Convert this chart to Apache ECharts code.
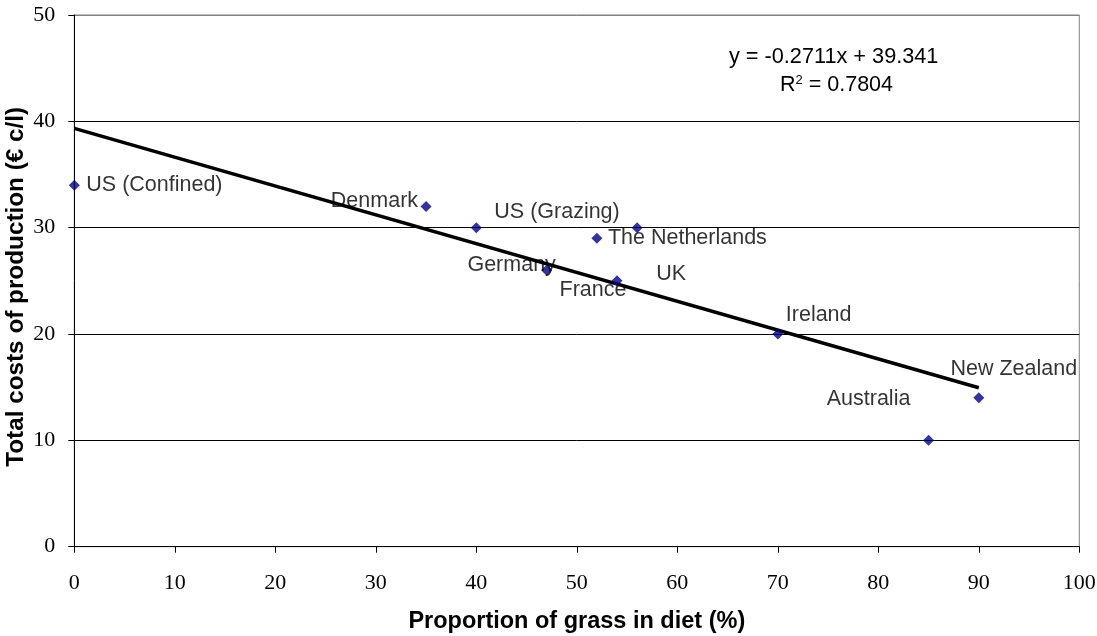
<!DOCTYPE html>
<html><head><meta charset="utf-8">
<script src="https://cdn.jsdelivr.net/npm/echarts@6/dist/echarts.min.js"></script>
<style>html,body{margin:0;padding:0;background:#fff}#c{width:1097px;height:636px}</style>
</head><body><div id="c"></div>
<script>
var countries = ['US (Confined)','Denmark','US (Grazing)','Germany','The Netherlands','France','UK','Ireland','Australia','New Zealand'];
var grassShare = [0,35,40,47,52,54,56,70,85,90];
var totalCost = [34,32,30,26,29,25,30,20,10,14];
var xTicks = [0,10,20,30,40,50,60,70,80,90,100];
var yTicks = [0,10,20,30,40,50];

// label placement (style only)
var labelPlace = [
  {align:'left', offset:[12,0]},
  {align:'right', offset:[-8,-5]},
  {align:'left', offset:[18,-16]},
  {align:'center', offset:[-35,-5]},
  {align:'left', offset:[11,0]},
  {align:'center', offset:[-24,9]},
  {align:'center', offset:[34,46]},
  {align:'left', offset:[8,-19]},
  {align:'center', offset:[-60,-41]},
  {align:'center', offset:[35,-29]}
];

// linear regression computed from the data
var n = grassShare.length, mx = 0, my = 0;
for (var i=0;i<n;i++){mx+=grassShare[i];my+=totalCost[i];}
mx/=n; my/=n;
var sxx=0, sxy=0, syy=0;
for (var i=0;i<n;i++){var dx=grassShare[i]-mx, dy=totalCost[i]-my; sxx+=dx*dx; sxy+=dx*dy; syy+=dy*dy;}
var slope = sxy/sxx, icpt = my - slope*mx, r2 = sxy*sxy/(sxx*syy);
var xmin = Math.min.apply(null, grassShare), xmax = Math.max.apply(null, grassShare);
var trend = [[xmin, icpt+slope*xmin],[xmax, icpt+slope*xmax]];

var pts = grassShare.map(function(x,i){
  return {value:[x,totalCost[i]], name:countries[i],
    label:{show:true, position:'inside', align:labelPlace[i].align, verticalAlign:'middle', offset:labelPlace[i].offset, formatter:countries[i]}};
});

var chart = echarts.init(document.getElementById('c'));
chart.setOption({
  animation:false,
  grid:{left:74.3, right:17.7, top:15, bottom:89.3, show:true, borderColor:'#808080', borderWidth:1,
        containLabel:false, outerBoundsMode:'none'},
  xAxis:{type:'value', min:0, max:100, interval:10,
    axisLine:{show:true, onZero:false, lineStyle:{color:'#000', width:1}},
    axisTick:{show:true, length:6, lineStyle:{color:'#000'}},
    axisLabel:{fontFamily:'Liberation Serif', fontSize:22, color:'#000', margin:26},
    splitLine:{show:false},
    name:'Proportion of grass in diet (%)', nameLocation:'middle', nameGap:63,
    nameTextStyle:{fontFamily:'Liberation Sans', fontWeight:'bold', fontSize:23.5, color:'#000'}},
  yAxis:{type:'value', min:0, max:50, interval:10,
    axisLine:{show:true, onZero:false, lineStyle:{color:'#000', width:1}},
    axisTick:{show:true, length:6, lineStyle:{color:'#000'}},
    axisLabel:{fontFamily:'Liberation Serif', fontSize:22, color:'#000', margin:19},
    splitLine:{show:true, lineStyle:{color:['#000','#000','#000','#000','#000','#808080'], width:1}},
    name:'Total costs of production (€ c/l)', nameLocation:'middle', nameGap:46, nameMoveOverlap:false,
    nameTextStyle:{fontFamily:'Liberation Sans', fontWeight:'bold', fontSize:24.3, color:'#000', padding:[0,12,0,0]}},
  series:[
    {type:'line', data:trend, symbol:'none', lineStyle:{color:'#000', width:3.5}, z:3, silent:true},
    {type:'scatter', data:pts, symbol:'diamond', symbolSize:11, itemStyle:{color:'#000080'}, z:4,
      label:{fontFamily:'Liberation Sans', fontSize:21.5, color:'#000'}}
  ],
  graphic:[
    {type:'text', left:729, top:46, style:{
      text:'y = ' + slope.toFixed(4) + 'x + ' + icpt.toFixed(3),
      fontFamily:'Liberation Sans', fontSize:21.7, fill:'#000'}},
    {type:'text', left:780, top:74, style:{
      text:'R{s|2} = ' + r2.toFixed(4),
      rich:{s:{fontSize:13, verticalAlign:'top', fontFamily:'Liberation Sans', padding:[0,0,10,0]}},
      fontFamily:'Liberation Sans', fontSize:21.5, fill:'#000'}}
  ]
});
</script></body></html>
